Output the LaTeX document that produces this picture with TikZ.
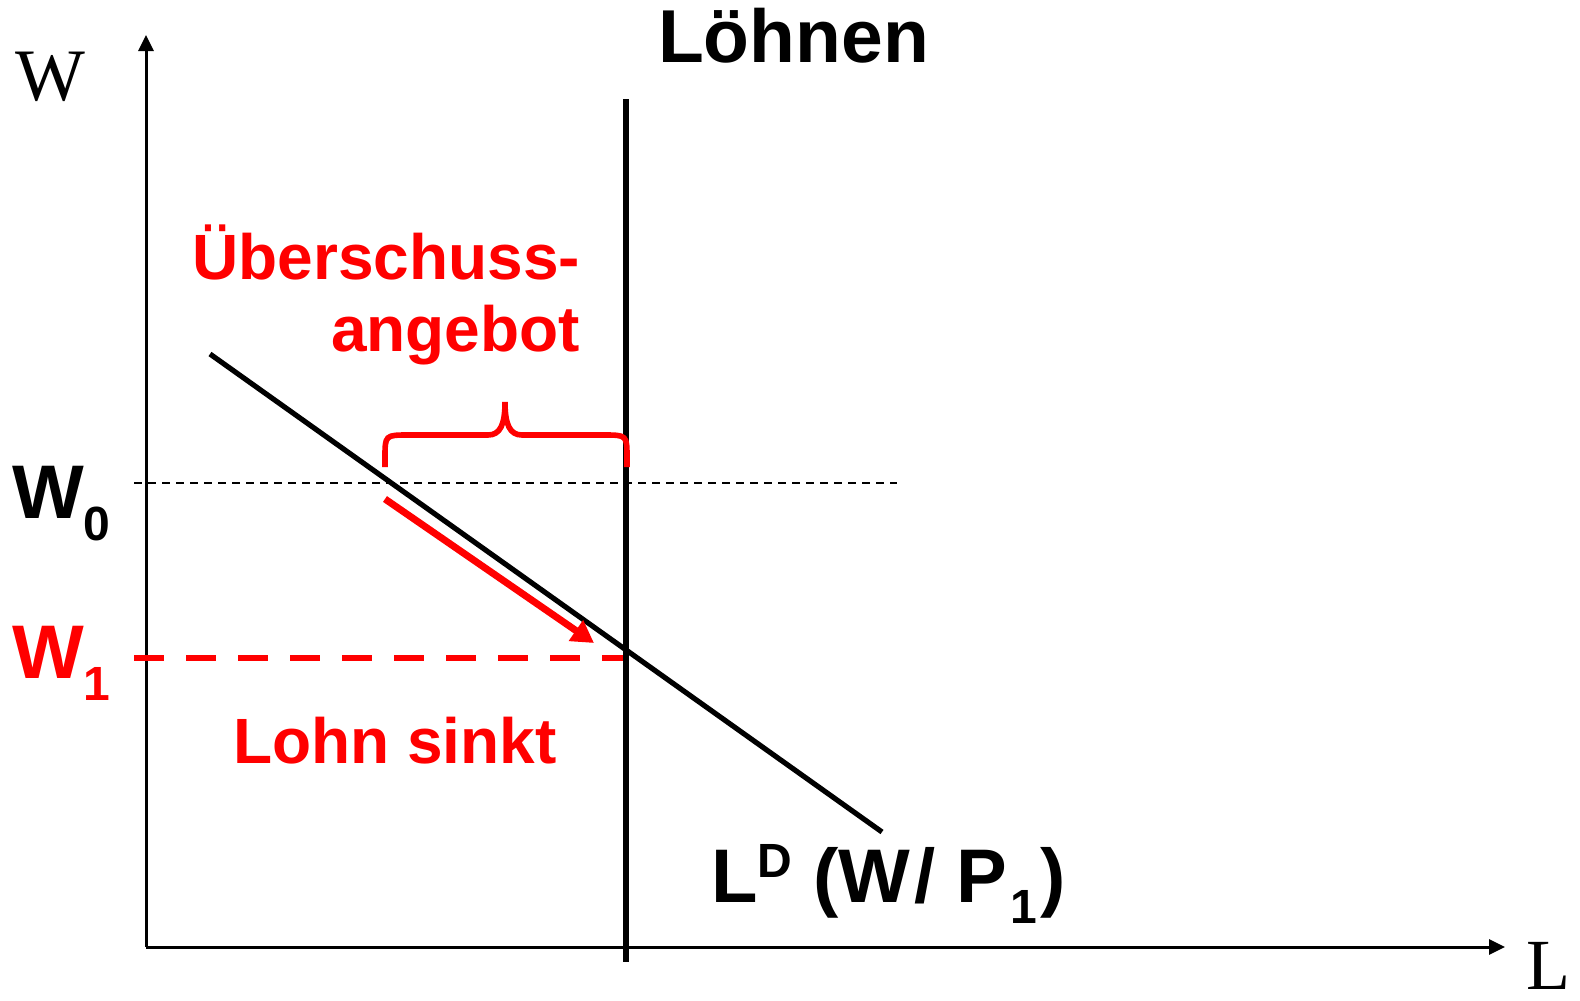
\documentclass[tikz,border=0pt]{standalone}
\usepackage{fontspec}
\setmainfont{Liberation Sans}
\newfontfamily\serifax{Liberation Serif}
\usetikzlibrary{arrows.meta}
\definecolor{redc}{RGB}{255,0,0}
\tikzset{
  lbl/.style={inner sep=0pt, outer sep=0pt},
  axisline/.style={line width=1.5pt, -{Triangle[length=8pt,width=7.5pt]}},
  blackline/.style={line width=2.6pt},
  redtext/.style={text=redc, font=\fontsize{32}{36}\selectfont\bfseries},
}
\begin{document}
\begin{tikzpicture}[x=0.5pt,y=-0.5pt]
\useasboundingbox (0,0) rectangle (1580,1001);
% coordinates
\coordinate (O) at (146,947);
\coordinate (Ytop) at (146,35);
\coordinate (Xend) at (1505,947);
\coordinate (Vtop) at (626,99);
\coordinate (Vbot) at (626,962);
\coordinate (Dstart) at (210,354);
\coordinate (Dend) at (882,832);
\coordinate (W0a) at (134,483);
\coordinate (W0b) at (897,483);
\coordinate (W1a) at (134,658);
\coordinate (W1b) at (626,658);
\coordinate (Aa) at (385,499);
\coordinate (Ab) at (594,643);
% axes
\draw[axisline] (O) -- (Ytop);
\draw[axisline] (O) -- (Xend);
% W0 dashed
\draw[line width=1pt, dash pattern=on 4pt off 3pt] (W0a) -- (W0b);
% W1 red dashed
\draw[redc, line width=3.3pt, dash pattern=on 15pt off 11pt] (W1a) -- (W1b);
% vertical supply
\draw[blackline, line width=2.8pt] (Vtop) -- (Vbot);
% demand
\draw[blackline] (Dstart) -- (Dend);
% red arrow
\draw[redc, line width=3.5pt, -{Triangle[length=11pt,width=12pt]}] (Aa) -- (Ab);
% brace
\draw[redc, line width=2.8pt] (385,467) -- (385,458) .. controls (385,435) .. (409,435) -- (488,435)
  .. controls (500,435) and (505,425) .. (505,402)
  .. controls (505,425) and (510,435) .. (522,435) -- (603,435)
  .. controls (627,435) .. (627,458) -- (627,467);
% labels
\node[lbl, anchor=base] (wax) at (50,100) {\serifax\fontsize{37}{37}\selectfont W};
\node[lbl, anchor=base] (lax) at (1548,989) {\serifax\fontsize{36}{36}\selectfont L};
\node[lbl, anchor=base west] (title) at (658,62) {\fontsize{37.5}{37.5}\selectfont\bfseries Löhnen};
\node[lbl, anchor=base east, align=right, redtext] (ueber) at (580,351) {Überschuss-\\angebot};
\node[lbl, anchor=base west, redtext] (lohn) at (233,763) {Lohn sinkt};
\node[lbl, anchor=base west] (w0) at (12,518) {\fontsize{38}{38}\selectfont\bfseries W\raisebox{-11pt}{\fontsize{24}{24}\selectfont 0}};
\node[lbl, anchor=base west, text=redc] (w1) at (12,678) {\fontsize{38}{38}\selectfont\bfseries W\raisebox{-11pt}{\fontsize{24}{24}\selectfont 1}};
\node[lbl, anchor=base west] (ld) at (711,902) {\fontsize{38}{38}\selectfont\bfseries L\raisebox{12.5pt}{\fontsize{24}{24}\selectfont D} (W\kern2pt/ P\kern1.5pt\raisebox{-10.5pt}{\fontsize{24}{24}\selectfont 1}\kern2pt)};
\end{tikzpicture}
\end{document}
